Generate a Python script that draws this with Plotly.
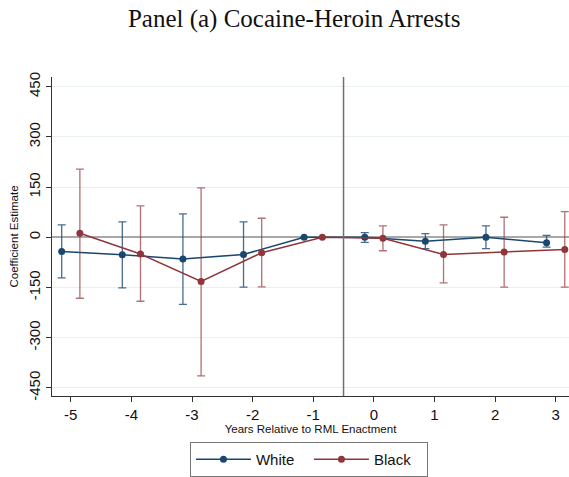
import plotly.graph_objects as go

years = [-5, -4, -3, -2, -1, 0, 1, 2, 3]
white_est = [-42, -52, -65, -51, 0, 0, -12, 0, -16]
white_hi = [37, 46, 70, 46, None, 14, 11, 34, 6]
white_lo = [-121, -151, -200, -149, None, -15, -34, -34, -29]
black_est = [12, -50, -132, -46, 0, -3, -51, -44, -36]
black_hi = [204, 94, 148, 57, None, 34, 37, 60, 77]
black_lo = [-182, -191, -414, -148, None, -40, -136, -149, -149]
offset = 0.15
yticks = [-450, -300, -150, 0, 150, 300, 450]
xticks = [-5, -4, -3, -2, -1, 0, 1, 2, 3]

navy = "#1A476F"
maroon = "#90353B"


def errs(est, hi, lo):
    up = [(h - e) if h is not None else 0 for e, h in zip(est, hi)]
    dn = [(e - l) if l is not None else 0 for e, l in zip(est, lo)]
    return up, dn


fig = go.Figure()
for name, est, hi, lo, col, ecol, sh in [
    ("White", white_est, white_hi, white_lo, navy, "rgba(26,71,111,0.8)", -offset),
    ("Black", black_est, black_hi, black_lo, maroon, "rgba(144,53,59,0.7)", offset),
]:
    up, dn = errs(est, hi, lo)
    fig.add_trace(go.Scatter(
        x=[t + sh for t in years], y=est, name=name, mode="lines+markers",
        line=dict(color=col, width=1.5),
        marker=dict(color=col, size=7),
        error_y=dict(type="data", symmetric=False, array=up, arrayminus=dn,
                     color=ecol, thickness=1.3, width=4),
    ))

fig.add_shape(type="line", x0=-0.5, x1=-0.5, xref="x", y0=0, y1=1, yref="paper",
              line=dict(color="#707070", width=1.5))

fig.update_layout(
    width=569, height=477,
    margin=dict(l=52, r=0, t=77, b=76),
    paper_bgcolor="white", plot_bgcolor="white",
    font=dict(family="Liberation Sans, Arial", color="#111"),
    title=dict(text="Panel (a) Cocaine-Heroin Arrests", x=0.517, xanchor="center",
               y=0.962, yanchor="middle",
               font=dict(family="Liberation Serif, serif", size=25, color="#111")),
    showlegend=True,
    legend=dict(orientation="h", x=0.497, xanchor="center", y=-0.145, yanchor="top",
                bordercolor="#777", borderwidth=1, font=dict(size=15),
                itemwidth=55, entrywidth=48, traceorder="normal"),
    xaxis=dict(range=[-5.31, 3.22], tickvals=xticks, ticktext=[str(v) for v in xticks],
               showgrid=False, zeroline=False,
               showline=True, linecolor="#333", linewidth=1.2, ticks="outside",
               ticklen=5, tickcolor="#333", tickfont=dict(size=15),
               title=dict(text="Years Relative to RML Enactment", font=dict(size=11.5), standoff=2)),
    yaxis=dict(range=[-474, 479], tickvals=yticks, ticktext=[str(v) for v in yticks],
               showgrid=True, gridcolor="#e8f0f0",
               zeroline=True, zerolinecolor="#a8a8a8", zerolinewidth=2,
               showline=True, linecolor="#333", linewidth=1.2, ticks="outside",
               ticklen=5, tickcolor="#333", tickangle=-90, tickfont=dict(size=15),
               title=dict(text="Coefficient Estimate", font=dict(size=11.5), standoff=4)),
)

fig.write_html("out.html")
